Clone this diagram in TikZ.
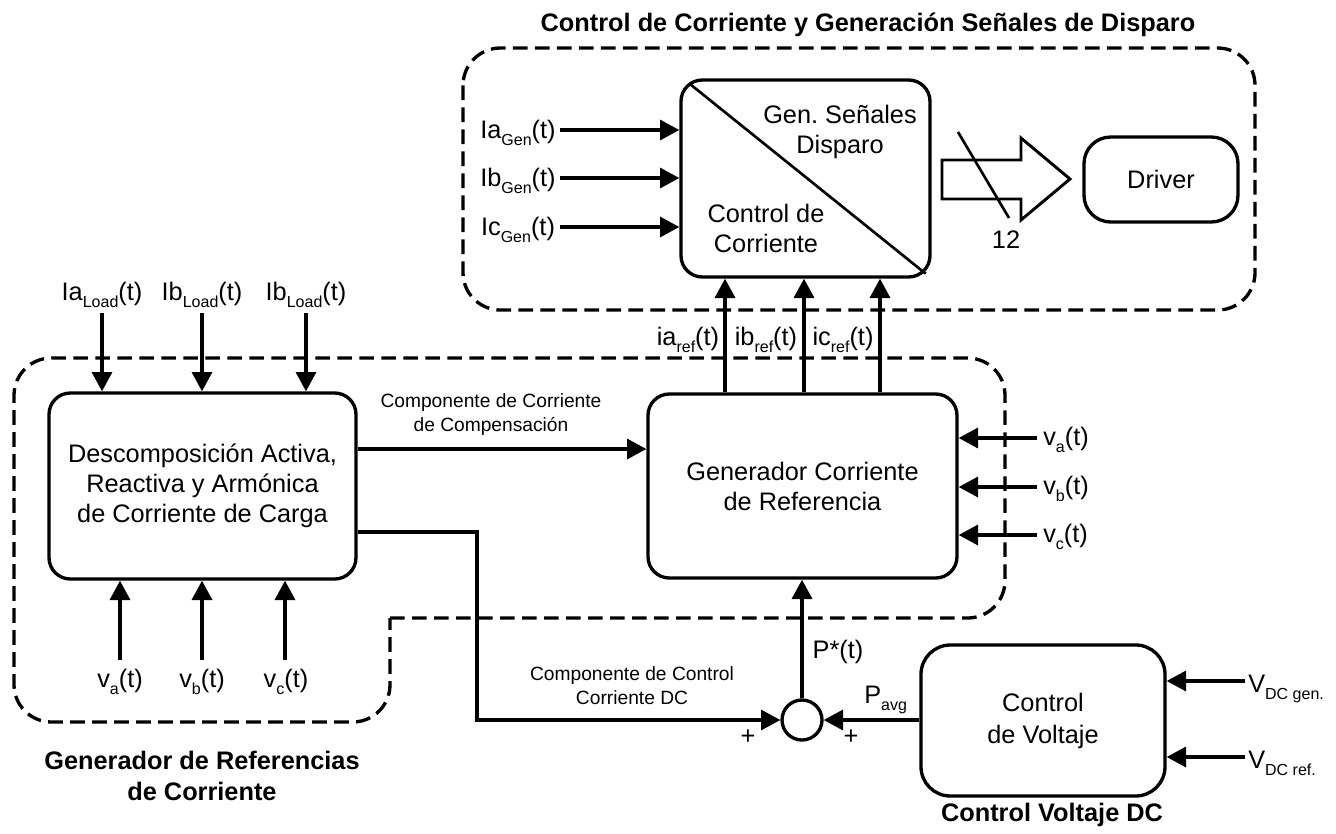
\documentclass[tikz,border=0pt]{standalone}
\usepackage{fontspec}
\setmainfont{Liberation Sans}
\usetikzlibrary{arrows.meta,calc}
\newcommand\sbx[1]{\raisebox{-5.5pt}{\fontsize{12}{12}\selectfont #1}}
\begin{document}
\begin{tikzpicture}[x=0.75pt,y=-0.75pt,
  font=\fontsize{19}{22.5}\selectfont,
  lw/.style={line width=2.5pt},
  blk/.style={draw, lw, rounded corners=16pt, align=center, inner sep=0pt},
  arr/.style={lw, -{Triangle[length=14.5pt,width=15pt]}},
  dsh/.style={lw, dash pattern=on 11pt off 5.5pt},
  small/.style={font=\fontsize{14.4}{18}\selectfont, align=center, inner sep=0pt},
  ttl/.style={font=\fontsize{19}{23}\selectfont\bfseries, align=center, inner sep=0pt},
  lbl/.style={inner sep=0pt, anchor=base},
  txt/.style={align=center, inner sep=0pt},
]
\useasboundingbox (0,0) rectangle (1336,833);

% dashed groups
\draw[dsh, rounded corners=28pt] (463,48) rectangle (1255,310);
\draw[dsh, rounded corners=28pt] (390,618) -- (1005,618) -- (1005,358) -- (14,358) -- (14,722) -- (390,722) -- (390,618);

% titles
\node[ttl, lbl] (t1) at (868,31) {Control de Corriente y Generación Señales de Disparo};
\node[ttl] (t2) at (202,776) {Generador de Referencias\\de Corriente};
\node[ttl, lbl] (t3) at (1052,821) {Control Voltaje DC};

% blocks
\node[blk, minimum width=230.25pt, minimum height=139.5pt] (desc) at (202.5,486) {Descomposición Activa,\\Reactiva y Armónica\\de Corriente de Carga};
\node[blk, minimum width=231.75pt, minimum height=138pt] (gen) at (802.5,486) {Generador Corriente\\de Referencia};
\node[blk, minimum width=186.75pt, minimum height=147.75pt] (cc) at (805.5,178.5) {};
\node[blk, rounded corners=20pt, minimum width=115.5pt, minimum height=63.75pt] (drv) at (1161,179.5) {Driver};
\node[blk, rounded corners=22pt, minimum width=183pt, minimum height=113.25pt] (cv) at (1043,720.5) {Control\\[1.5pt]de Voltaje};
\node[draw, lw, circle, minimum size=30pt, inner sep=0pt] (sum) at (802,720) {};

% current control block interior
\draw[line width=2pt] ($(cc.north west)+(11,6)$) -- ($(cc.south east)+(-6,-5)$);
\node[txt] (gs) at (840,132) {Gen.\ Señales\\Disparo};
\node[txt] (ccl) at (766,228) {Control de\\Corriente};

% inputs to current control
\foreach \y/\n in {130/a,178/b,227/c}{
  \coordinate (g\n) at (560,\y);
  \draw[arr] (g\n) -- (g\n -| cc.west);
}
\node[lbl] (iga) at (518,138) {Ia\sbx{Gen}(t)};
\node[lbl] (igb) at (518,186) {Ib\sbx{Gen}(t)};
\node[lbl] (igc) at (518,235) {Ic\sbx{Gen}(t)};

% bus arrow to driver
\draw[line width=2.2pt] (942,160) -- (1021,160) -- (1021,138) -- (1070,179) -- (1021,220) -- (1021,199) -- (942,199) -- cycle;
\draw[line width=2pt] (958,132) -- (1009,218);
\node[lbl] (n12) at (1006,248) {12};

% reference currents
\foreach \x/\n in {725/a,804/b,880/c}{
  \coordinate (r\n) at (\x,0);
  \draw[arr] (gen.north -| r\n) -- (cc.south -| r\n);
}
\node[lbl] (ira) at (688,345) {ia\sbx{ref}(t)};
\node[lbl] (irb) at (766,345) {ib\sbx{ref}(t)};
\node[lbl] (irc) at (843,345) {ic\sbx{ref}(t)};

% voltage inputs to generator
\foreach \y/\n in {438/a,487/b,535/c}{
  \coordinate (vr\n) at (1037,\y);
  \draw[arr] (vr\n) -- (vr\n -| gen.east);
}
\node[lbl, anchor=base west] (vra) at (1043,445) {v\sbx{a}(t)};
\node[lbl, anchor=base west] (vrb) at (1043,494) {v\sbx{b}(t)};
\node[lbl, anchor=base west] (vrc) at (1043,542) {v\sbx{c}(t)};

% load currents
\foreach \x/\n in {102/a,202/b,306/c}{
  \coordinate (l\n) at (\x,313);
  \draw[arr] (l\n) -- (l\n |- desc.north);
}
\node[lbl] (ila) at (102,300) {Ia\sbx{Load}(t)};
\node[lbl] (ilb) at (202,300) {Ib\sbx{Load}(t)};
\node[lbl] (ilc) at (306,300) {Ib\sbx{Load}(t)};

% voltages to decomposition
\foreach \x/\n in {120/a,202/b,285/c}{
  \coordinate (vb\n) at (\x,660);
  \draw[arr] (vb\n) -- (vb\n |- desc.south);
}
\node[lbl] (vba) at (120,687) {v\sbx{a}(t)};
\node[lbl] (vbb) at (202,687) {v\sbx{b}(t)};
\node[lbl] (vbc) at (286,687) {v\sbx{c}(t)};

% compensation component
\draw[arr] ([yshift=27.75pt]desc.east) -- ([yshift=27.75pt]gen.west);
\node[small] (cc1) at (491,415) {Componente de Corriente\\de Compensación};

% DC control component
\coordinate (k) at (477,720);
\draw[arr] ([yshift=-34.5pt]desc.east) -| (k) -- (sum.west);
\node[small] (cc2) at (632,686) {Componente de Control\\Corriente DC};

% sum
\draw[arr] (sum.north) -- (sum.north |- gen.south);
\draw[arr] (cv.west |- sum.east) -- (sum.east);
\node[lbl] (ps) at (838,658) {P*(t)};
\node[lbl, anchor=base west] (pav) at (864,703) {P\sbx{avg}};
\node[lbl] (pl1) at (748,744) {+};
\node[lbl] (pl2) at (851,744) {+};

% DC voltages
\coordinate (vd1) at (1245,681);
\coordinate (vd2) at (1245,757);
\draw[arr] (vd1) -- (vd1 -| cv.east);
\draw[arr] (vd2) -- (vd2 -| cv.east);
\node[lbl, anchor=base west] (vdg) at (1248,692) {V\sbx{DC gen.}};
\node[lbl, anchor=base west] (vdr) at (1248,768) {V\sbx{DC ref.}};
\end{tikzpicture}
\end{document}
